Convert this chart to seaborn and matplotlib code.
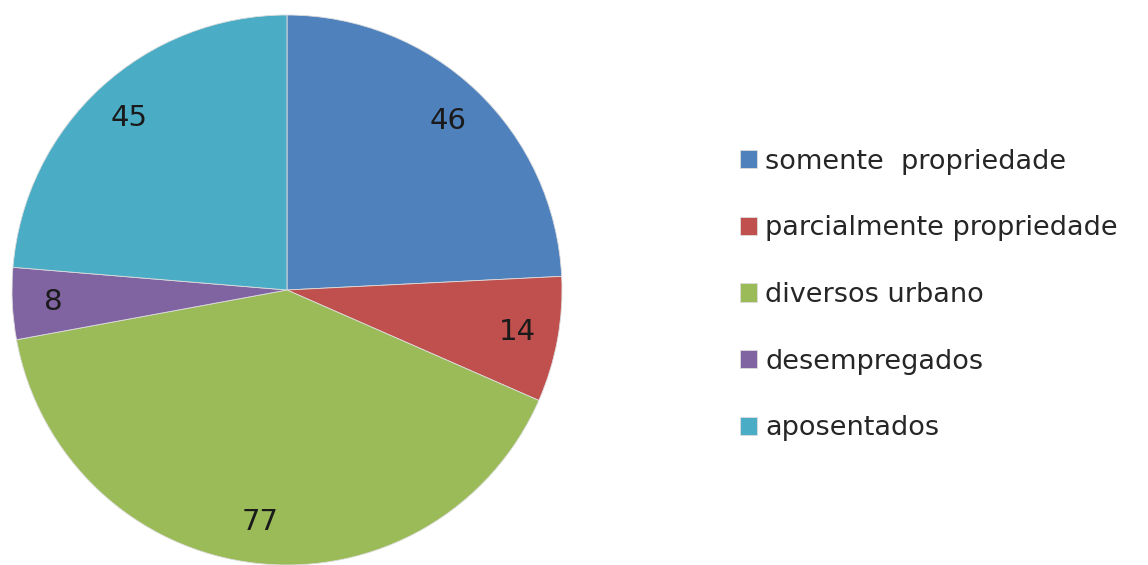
import numpy as np
import pandas as pd
import matplotlib
matplotlib.use("Agg")
import matplotlib.pyplot as plt
import seaborn as sns

categories = ["somente  propriedade", "parcialmente propriedade", "diversos urbano",
              "desempregados", "aposentados"]
values = [46, 14, 77, 8, 45]
colors = ["#4F81BD", "#C0504D", "#9BBB59", "#8064A2", "#4BACC6"]

sns.set_style("white")
plt.rcParams["font.family"] = ["DejaVu Sans"]

df = pd.DataFrame({"categoria": categories, "n": values})

fig = plt.figure(figsize=(11.48, 5.65), dpi=100)
ax = fig.add_axes([12 / 1148, 0.0, 550 / 1148, 550 / 565])

wedges, texts, autotexts = ax.pie(
    df["n"], colors=colors, startangle=90, counterclock=False,
    radius=1.0, autopct=lambda p: f"{p * df['n'].sum() / 100:.0f}",
    pctdistance=0.85, textprops={"fontsize": 21, "color": "#1a1a1a"},
    wedgeprops={"linewidth": 0.6, "edgecolor": "#dddddd"},
)
ax.set_xlim(-1, 1)
ax.set_ylim(-1, 1)
ax.set_aspect("equal")

leg = fig.legend(wedges, df["categoria"], loc="center left",
                 bbox_to_anchor=(726 / 1148, 1 - 295 / 565),
                 frameon=False, fontsize=19.5, handlelength=0.65, handleheight=0.65,
                 handletextpad=0.3, labelspacing=1.5, borderpad=0)
for t in leg.get_texts():
    t.set_color("#262626")

fig.savefig("out.png", dpi=100, facecolor="white")
